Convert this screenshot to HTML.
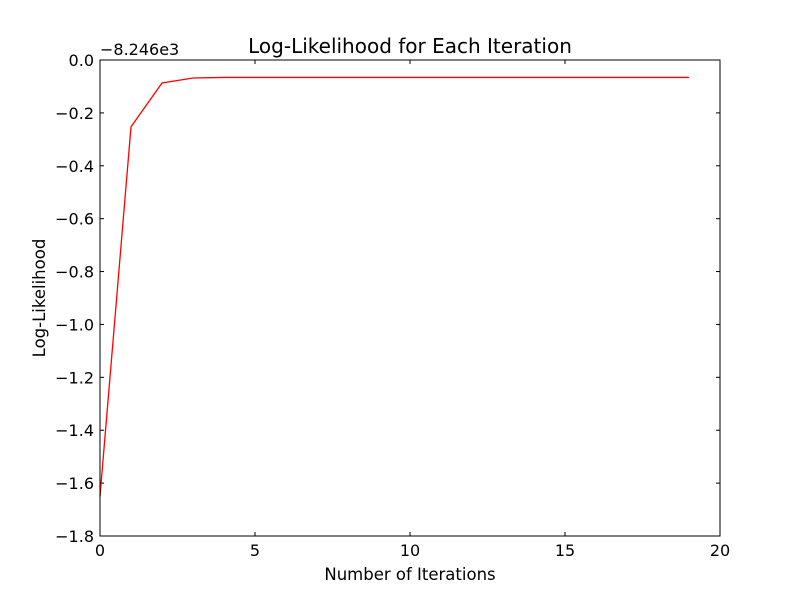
<!DOCTYPE html>
<html><head><meta charset="utf-8"><style>
body{margin:0;background:#fff;}
svg text{font-family:"DejaVu Sans","Liberation Sans",sans-serif;}
</style></head><body>
<svg id="chart" width="800" height="595" xmlns="http://www.w3.org/2000/svg">
<rect width="800" height="595" fill="#fff"/>
<g id="ticks"></g>
<polyline id="series" fill="none" stroke="#ff0000" stroke-width="1.3"/>
<rect x="100" y="60" width="620" height="476" fill="none" stroke="#000" stroke-width="1"/>
<text x="410" y="53" font-size="20" text-anchor="middle">Log-Likelihood for Each Iteration</text>
<text x="100" y="55" font-size="16">−8.246e3</text>
<text x="410" y="580" font-size="16.5" text-anchor="middle">Number of Iterations</text>
<text x="45" y="298" font-size="16.5" text-anchor="middle" transform="rotate(-90 45 298)">Log-Likelihood</text>
</svg>
<script>
const iterations=[0,1,2,3,4,5,6,7,8,9,10,11,12,13,14,15,16,17,18,19];
const logLik=[-1.65,-0.253,-0.087,-0.068,-0.066,-0.066,-0.066,-0.066,-0.066,-0.066,-0.066,-0.066,-0.066,-0.066,-0.066,-0.066,-0.066,-0.066,-0.066,-0.066];
const xTicks=[0,5,10,15,20];
const yTicks=[0,-0.2,-0.4,-0.6,-0.8,-1.0,-1.2,-1.4,-1.6,-1.8];
const yTickLabels=["0.0","−0.2","−0.4","−0.6","−0.8","−1.0","−1.2","−1.4","−1.6","−1.8"];
const X=v=>100+v*(620/20);
const Y=v=>60+(-v)*(476/1.8);
const ns="http://www.w3.org/2000/svg";
const g=document.getElementById('ticks');
function mk(t,a){const e=document.createElementNS(ns,t);for(const k in a)e.setAttribute(k,a[k]);g.appendChild(e);return e;}
xTicks.forEach(t=>{
  const x=X(t);
  const l1=mk('line',{x1:x,x2:x,y1:536,y2:532,stroke:'#000'});
  
  
  const l2=mk('line',{x1:x,x2:x,y1:60,y2:64,stroke:'#000'});
  
  
  const tx=mk('text',{x:x,y:556,'font-size':16,'text-anchor':'middle'});
  tx.textContent=t;
  
  
});
yTicks.forEach((t,i)=>{
  const y=Y(t);
  const l1=mk('line',{x1:100,x2:104,y1:y,y2:y,stroke:'#000'});
  
  
  const l2=mk('line',{x1:716,x2:720,y1:y,y2:y,stroke:'#000'});
  
  
  const tx=mk('text',{x:94,y:y+6,'font-size':16,'text-anchor':'end'});
  tx.textContent=yTickLabels[i];
  
  
});
document.getElementById('series').setAttribute('points',iterations.map((v,i)=>X(v)+','+Y(logLik[i])).join(' '));
</script>
</body></html>
